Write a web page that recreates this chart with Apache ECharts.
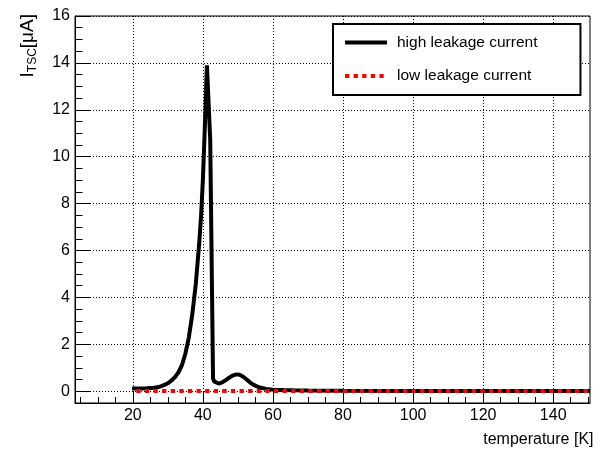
<!DOCTYPE html>
<html><head><meta charset="utf-8">
<script src="https://cdn.jsdelivr.net/npm/echarts@6/dist/echarts.min.js"></script>
<style>html,body{margin:0;padding:0;background:#fff}#c{width:603px;height:451px}</style>
</head><body><div id="c"></div>
<script>
// high leakage current: temperature [K] and I_TSC [uA]
const highT = [19.8, 22, 24, 26, 27, 28, 29, 30, 31, 32, 33, 34, 35, 36, 37, 38, 39, 39.5, 40, 40.5, 41.15, 41.6, 42.1, 42.9, 43.2, 43.6, 44.5, 45.5, 46.5, 47.5, 48.5, 49.5, 50.5, 51.5, 52.5, 53.5, 54.5, 56, 58, 60, 63, 66, 70, 80, 100, 120, 150.5];
const highI = [0.12, 0.12, 0.13, 0.15, 0.17, 0.21, 0.27, 0.34, 0.45, 0.6, 0.8, 1.1, 1.6, 2.3, 3.3, 4.6, 6.4, 7.5, 9.0, 11.0, 13.9, 12.4, 10.7, 0.55, 0.42, 0.36, 0.33, 0.38, 0.47, 0.58, 0.67, 0.72, 0.70, 0.62, 0.5, 0.37, 0.27, 0.17, 0.1, 0.07, 0.05, 0.04, 0.03, 0.022, 0.015, 0.015, 0.015];
// low leakage current
const lowT = [21, 60, 100, 150.5];
const lowI = [0.012, 0.012, 0.012, 0.012];
// axis ticks
const xMajor = [20, 40, 60, 80, 100, 120, 140];
const xMinor = [5, 10, 15, 20, 25, 30, 35, 40, 45, 50, 55, 60, 65, 70, 75, 80, 85, 90, 95, 100, 105, 110, 115, 120, 125, 130, 135, 140, 145, 150];
const yMajor = [0, 2, 4, 6, 8, 10, 12, 14, 16];
const yMinor = [0, 0.5, 1, 1.5, 2, 2.5, 3, 3.5, 4, 4.5, 5, 5.5, 6, 6.5, 7, 7.5, 8, 8.5, 9, 9.5, 10, 10.5, 11, 11.5, 12, 12.5, 13, 13.5, 14, 14.5, 15, 15.5, 16];
const seriesNames = ['high leakage current', 'low leakage current'];

const FF = '"Liberation Sans", Arial, Helvetica, sans-serif';
const zip = (a, b) => a.map((v, i) => [v, b[i]]);
const dotted = { show: true, lineStyle: { color: '#000', type: [1, 2], width: 1 } };

const chart = echarts.init(document.getElementById('c'), null, { renderer: 'canvas' });
chart.setOption({
  animation: false,
  backgroundColor: '#fff',
  grid: { left: 75, right: 13, top: 16, bottom: 48, show: true, borderColor: '#000', borderWidth: 1, backgroundColor: 'transparent' },
  xAxis: [
    {
      type: 'value', min: 3.5, max: 150.5, position: 'bottom',
      axisLine: { show: true, onZero: false, lineStyle: { color: '#000', width: 1 } },
      axisTick: { show: true, inside: true, length: 12, customValues: xMajor, lineStyle: { color: '#000', width: 1 } },
      axisLabel: { customValues: xMajor, fontSize: 16, color: '#000', fontFamily: FF, margin: 5 },
      splitLine: dotted,
      name: 'temperature [K]', nameLocation: 'end', nameGap: 3.5, nameMoveOverlap: false,
      nameTextStyle: { fontSize: 16, color: '#000', fontFamily: FF, align: 'right', verticalAlign: 'top', padding: [29, 0, 0, 0] }
    },
    {
      type: 'value', min: 3.5, max: 150.5, position: 'bottom',
      axisLine: { show: false, onZero: false },
      axisTick: { show: true, inside: true, length: 6, customValues: xMinor, lineStyle: { color: '#000', width: 1 } },
      axisLabel: { show: false }, splitLine: { show: false }
    }
  ],
  yAxis: [
    {
      type: 'value', min: -0.5, max: 16, position: 'left',
      axisLine: { show: true, onZero: false, lineStyle: { color: '#000', width: 1 } },
      axisTick: { show: true, inside: true, length: 15, customValues: yMajor, lineStyle: { color: '#000', width: 1 } },
      axisLabel: { customValues: yMajor, fontSize: 16, color: '#000', fontFamily: FF, margin: 5 },
      splitLine: dotted,
      name: '{m|I}{s|TSC}{m|[μA]}', nameLocation: 'end', nameGap: 2, nameRotate: 90, nameMoveOverlap: false,
      nameTextStyle: {
        align: 'right', verticalAlign: 'bottom', padding: [0, 0, 38, 0],
        rich: {
          m: { fontSize: 19, color: '#000', fontFamily: FF, lineHeight: 19 },
          s: { fontSize: 12, color: '#000', fontFamily: FF, lineHeight: 12, padding: [11, 0, 0, 0] }
        }
      }
    },
    {
      type: 'value', min: -0.5, max: 16, position: 'left',
      axisLine: { show: false, onZero: false },
      axisTick: { show: true, inside: true, length: 7.5, customValues: yMinor, lineStyle: { color: '#000', width: 1 } },
      axisLabel: { show: false }, splitLine: { show: false }
    }
  ],
  legend: {
    orient: 'vertical', left: 333, top: 24, padding: [10.5, 43, 11, 10],
    itemWidth: 42, itemHeight: 14, itemGap: 17.6,
    backgroundColor: '#fff', borderColor: '#000', borderWidth: 2,
    textStyle: { fontSize: 15.5, color: '#000', fontFamily: FF, padding: [0, 0, 0, 5] },
    itemStyle: { opacity: 0 },
    lineStyle: { width: 4 },
    data: seriesNames
  },
  series: [
    {
      name: seriesNames[0], type: 'line', data: zip(highT, highI), symbol: 'none', smooth: false,
      itemStyle: { color: '#000' },
      lineStyle: { color: '#000', width: 4 }, z: 3
    },
    {
      name: seriesNames[1], type: 'line', data: zip(lowT, lowI), symbol: 'none',
      itemStyle: { color: '#ff0000' },
      lineStyle: { color: '#ff0000', width: 4, type: [4.3, 4.3] }, z: 4
    }
  ]
});
</script></body></html>
